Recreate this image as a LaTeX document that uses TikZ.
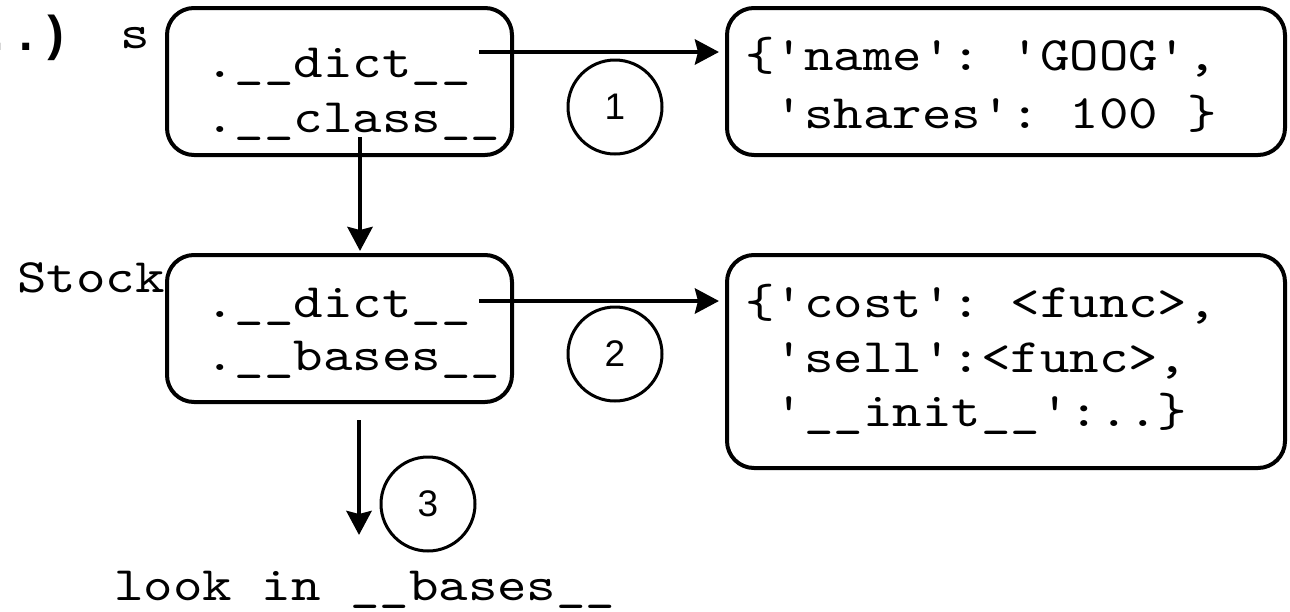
\documentclass[tikz,border=0pt]{standalone}
\usepackage{fontspec}
\setmonofont{lmmono10-regular.otf}[FakeStretch=1.17]
\newfontfamily\courbold{Liberation Mono Bold}
\setsansfont{Liberation Sans}
\usetikzlibrary{arrows.meta}
\begin{document}
\begin{tikzpicture}[x=1pt,y=-1pt,
  box/.style={draw, line width=4pt, rounded corners=27pt, inner sep=0pt, rectangle},
  txt/.style={anchor=base west, inner sep=0pt, font=\ttfamily\fontsize{48}{55}\selectfont},
  num/.style={circle, draw, line width=3pt, minimum size=94pt, inner sep=0pt, font=\sffamily\fontsize{37}{40}\selectfont},
  arr/.style={line width=4.5pt, -{Stealth[length=24pt,width=25pt,inset=3pt]}}]
\useasboundingbox (0,0) rectangle (1290,611);

% boxes
\node[box, minimum width=345pt, minimum height=147pt] (b1) at (339.5,81.5) {};
\node[box, minimum width=345pt, minimum height=147pt] (b2) at (339.5,328.5) {};
\node[box, minimum width=558pt, minimum height=147pt] (d1) at (1006,81.5) {};
\node[box, minimum width=558pt, minimum height=213pt] (d2) at (1006,361.5) {};

% box texts
\node[txt] (b1l1) at (205,77) {.\_\_dict\_\_};
\node[txt] (b1l2) at (205,132) {.\_\_class\_\_};
\node[txt] (b2l1) at (205,317) {.\_\_dict\_\_};
\node[txt] (b2l2) at (205,370) {.\_\_bases\_\_};
\node[txt] (d1l1) at (745,70) {\{'name': 'GOOG',};
\node[txt] (d1l2) at (745,128) {\phantom{\{}'shares': 100 \}};
\node[txt] (d2l1) at (745,317) {\{'cost': <func>,};
\node[txt] (d2l2) at (745,372) {\phantom{\{}'sell':<func>,};
\node[txt] (d2l3) at (745,426) {\phantom{\{}'\_\_init\_\_':..\}};

% labels
\node[anchor=base west, inner sep=0pt, font=\courbold\fontsize{49}{55}\selectfont] (call) at (-18,50) {..)};
\node[txt] (slab) at (120,48) {s};
\node[txt] (stock) at (17,292) {Stock};
\node[txt] (look) at (114,600) {look in \_\_bases\_\_};

% numbered circles
\node[num] (c1) at (615,107) {1};
\node[num] (c2) at (615,354) {2};
\node[num] (c3) at (428,504) {3};

% connectors
\coordinate (a1) at (479,52);
\draw[arr, shorten >=6pt] (a1) -- (a1 -| d1.west);
\coordinate (a2) at (479,301);
\draw[arr, shorten >=6pt] (a2) -- (a2 -| d2.west);
\coordinate (a3) at (360,137);
\draw[arr, shorten >=2pt] (a3) -- (a3 |- b2.north);
\coordinate (a4) at (359,420);
\coordinate (a4e) at (359,535);
\draw[arr] (a4) -- (a4e);
\end{tikzpicture}
\end{document}
